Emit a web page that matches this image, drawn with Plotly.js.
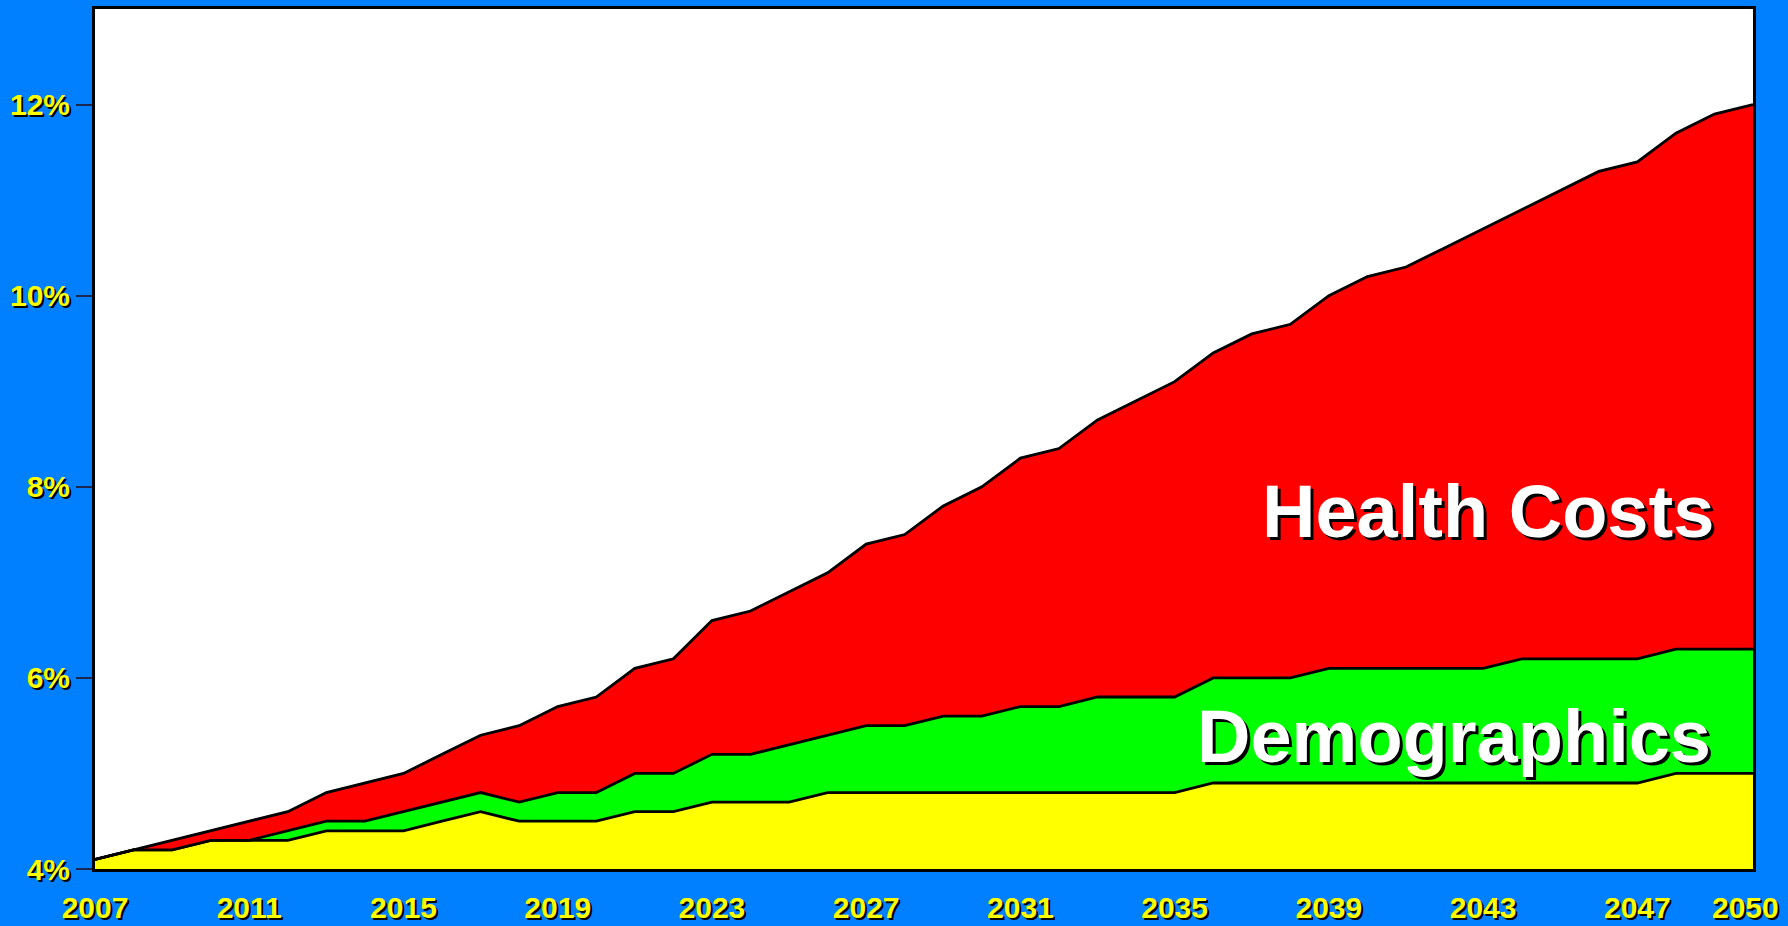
<!DOCTYPE html>
<html>
<head>
<meta charset="utf-8">
<script src="https://cdn.plot.ly/plotly-3.0.1.min.js"></script>
<style>html,body{margin:0;padding:0;background:#0080FF;}</style>
</head>
<body>
<div id="chart" style="width:1788px;height:926px;"></div>
<script>
const years = [2007,2008,2009,2010,2011,2012,2013,2014,2015,2016,2017,2018,2019,2020,2021,2022,2023,2024,2025,2026,2027,2028,2029,2030,2031,2032,2033,2034,2035,2036,2037,2038,2039,2040,2041,2042,2043,2044,2045,2046,2047,2048,2049,2050];
// top of the base (yellow) band
const baseTop = [4.1,4.2,4.2,4.3,4.3,4.3,4.4,4.4,4.4,4.5,4.6,4.5,4.5,4.5,4.6,4.6,4.7,4.7,4.7,4.8,4.8,4.8,4.8,4.8,4.8,4.8,4.8,4.8,4.8,4.9,4.9,4.9,4.9,4.9,4.9,4.9,4.9,4.9,4.9,4.9,4.9,5.0,5.0,5.0];
// top of the demographics (green) band
const demoTop = [4.1,4.2,4.2,4.3,4.3,4.4,4.5,4.5,4.6,4.7,4.8,4.7,4.8,4.8,5.0,5.0,5.2,5.2,5.3,5.4,5.5,5.5,5.6,5.6,5.7,5.7,5.8,5.8,5.8,6.0,6.0,6.0,6.1,6.1,6.1,6.1,6.1,6.2,6.2,6.2,6.2,6.3,6.3,6.3];
// top of the health costs (red) band = total
const healthTop = [4.1,4.2,4.3,4.4,4.5,4.6,4.8,4.9,5.0,5.2,5.4,5.5,5.7,5.8,6.1,6.2,6.6,6.7,6.9,7.1,7.4,7.5,7.8,8.0,8.3,8.4,8.7,8.9,9.1,9.4,9.6,9.7,10.0,10.2,10.3,10.5,10.7,10.9,11.1,11.3,11.4,11.7,11.9,12.0];

const xTickVals = [2007,2011,2015,2019,2023,2027,2031,2035,2039,2043,2047];
const xTickText = ['2007','2011','2015','2019','2023','2027','2031','2035','2039','2043','2047'];
const xLastTickVal = 2050;
const xLastTickText = '2050';
const yTickVals = [4,6,8,10,12];
const yTickText = ['4%','6%','8%','10%','12%'];
const labelHealth = 'Health Costs';
const labelDemo = 'Demographics';

const lineStyle = {color:'#000000', width:2.8, shape:'linear'};
const traces = [
  {x:years, y:baseTop, type:'scatter', mode:'lines', fill:'tozeroy', fillcolor:'#FFFF00', line:lineStyle, hoverinfo:'skip'},
  {x:years, y:demoTop, type:'scatter', mode:'lines', fill:'tonexty', fillcolor:'#00FF00', line:lineStyle, hoverinfo:'skip'},
  {x:years, y:healthTop, type:'scatter', mode:'lines', fill:'tonexty', fillcolor:'#FF0000', line:lineStyle, hoverinfo:'skip'}
];

const tickFont = {family:'Liberation Sans, Arial, sans-serif', size:30, color:'#FFFF00', weight:'bold', shadow:'2px 2px 0px #000000'};
const annFont = {family:'Liberation Sans, Arial, sans-serif', size:74, color:'#FFFFFF', weight:'bold', shadow:'3px 3px 0px #000000'};

const layout = {
  width:1788, height:926, autosize:false,
  paper_bgcolor:'#0080FF', plot_bgcolor:'#FFFFFF',
  margin:{l:95, r:35, t:9, b:57, pad:0},
  showlegend:false,
  xaxis:{
    range:[2007,2050], tickvals:xTickVals, ticktext:xTickText,
    showgrid:false, zeroline:false, showline:true, linecolor:'#000000', linewidth:3, mirror:true,
    ticks:'', ticklabelstandoff:10, tickfont:tickFont, fixedrange:true
  },
  yaxis:{
    range:[4,13], tickvals:yTickVals, ticktext:yTickText,
    showgrid:false, zeroline:false, showline:true, linecolor:'#000000', linewidth:3, mirror:true,
    ticks:'outside', ticklen:16, tickwidth:2, tickcolor:'#1a2850', tickfont:tickFont, fixedrange:true
  },
  annotations:[
    {x:xLastTickVal, y:0, xref:'x', yref:'paper', xanchor:'center', yanchor:'top', xshift:-8, yshift:-20, text:xLastTickText, showarrow:false, font:tickFont},
    {x:2049.05, y:7.74, xref:'x', yref:'y', xanchor:'right', yanchor:'middle', text:labelHealth, showarrow:false, font:annFont},
    {x:2048.95, y:5.39, xref:'x', yref:'y', xanchor:'right', yanchor:'middle', text:labelDemo, showarrow:false, font:annFont}
  ]
};

Plotly.newPlot('chart', traces, layout, {staticPlot:true, displayModeBar:false});
</script>
</body>
</html>
